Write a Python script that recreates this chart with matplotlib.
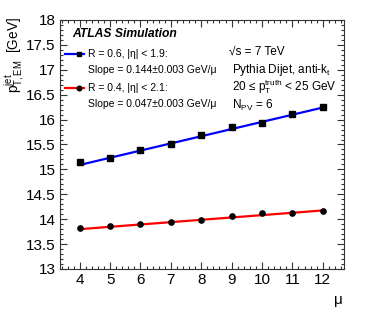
import matplotlib
matplotlib.use("Agg")
import matplotlib.pyplot as plt
from matplotlib.ticker import MultipleLocator
from matplotlib.lines import Line2D
import numpy as np

plt.rcParams['font.family'] = ['Liberation Sans', 'DejaVu Sans']
plt.rcParams['mathtext.fontset'] = 'custom'
plt.rcParams['mathtext.rm'] = 'Liberation Sans'
plt.rcParams['mathtext.it'] = 'Liberation Sans'

# data
mu = [4, 5, 6, 7, 8, 9, 10, 11, 12]
pt_r06 = [15.14, 15.23, 15.39, 15.51, 15.69, 15.85, 15.94, 16.12, 16.25]
pt_r04 = [13.83, 13.86, 13.90, 13.95, 13.99, 14.06, 14.12, 14.12, 14.17]

# linear fits (value at mu=4, slope)
fit_r06 = (15.09, 0.144)
fit_r04 = (13.80, 0.047)

fig = plt.figure(figsize=(3.74, 3.18), dpi=100)
ax = fig.add_axes([60/374, 49/318, 284/374, 249/318])

x_fit = np.array([mu[0], mu[-1]])
ax.plot(x_fit, fit_r06[0] + fit_r06[1]*(x_fit - 4), color='#0000ff', lw=1.6, zorder=2)
ax.plot(x_fit, fit_r04[0] + fit_r04[1]*(x_fit - 4), color='#ff0000', lw=1.6, zorder=2)
ax.plot(mu, pt_r06, 's', color='black', ms=3.8, zorder=3)
ax.plot(mu, pt_r04, 'o', color='black', ms=3.8, zorder=3)

ax.set_xlim(3.35, 12.7)
ax.set_ylim(13, 18)
ax.xaxis.set_minor_locator(MultipleLocator(0.2))
ax.yaxis.set_minor_locator(MultipleLocator(0.1))
ax.set_xticks(mu)
ax.set_yticks([13, 13.5, 14, 14.5, 15, 15.5, 16, 16.5, 17, 17.5, 18])
ax.set_yticklabels(['13', '13.5', '14', '14.5', '15', '15.5', '16', '16.5', '17', '17.5', '18'])
ax.tick_params(which='both', direction='in', top=True, right=True, color='#333333')
ax.tick_params(which='major', length=5, width=0.8, labelsize=11, pad=3)
ax.tick_params(which='minor', length=2.5, width=0.8)
for s in ax.spines.values():
    s.set_color('#333333')
    s.set_linewidth(0.8)

fig.text(15/374, 1 - 17/318, r'p$_{\mathregular{T,EM}}^{\mathregular{jet}}$  [GeV]', rotation=90,
         ha='center', va='top', fontsize=9.8)
fig.text(338/374, 1 - 300/318, 'μ', ha='center', va='center', fontsize=11)

fig.text(72/374, 1 - 34/318, 'ATLAS Simulation', fontsize=8.7,
         fontweight='bold', style='italic', va='center')

# legend, drawn by hand to keep the ROOT layout
fs = 7.5
leg = [(54, '#0000ff', 's', 'R = 0.6, |η| < 1.9:', 'Slope = 0.144±0.003 GeV/μ'),
       (88, '#ff0000', 'o', 'R = 0.4, |η| < 2.1:', 'Slope = 0.047±0.003 GeV/μ')]
for ypix, col, mk, lab, slope in leg:
    yf = 1 - ypix/318
    fig.add_artist(Line2D([65/374, 84/374], [yf, yf], color=col, lw=1.6))
    fig.add_artist(Line2D([79/374], [yf], marker=mk, color='black', ms=3.3))
    fig.text(88/374, yf, lab, fontsize=fs, va='center')
    fig.text(88/374, 1 - (ypix + 16)/318, slope, fontsize=fs, va='center')

info = [(52, 229, '√s = 7 TeV'),
        (70, 232, r'Pythia Dijet, anti-k$_{\mathregular{t}}$'),
        (87, 232, r'20 ≤ p$_{\mathregular{T}}^{\mathregular{truth}}$ < 25 GeV'),
        (105, 232, r'N$_{\mathregular{PV}}$ = 6')]
for ypix, xpix, txt in info:
    fig.text(xpix/374, 1 - ypix/318, txt, fontsize=8.5, va='center')

fig.savefig('out.png', dpi=100)
